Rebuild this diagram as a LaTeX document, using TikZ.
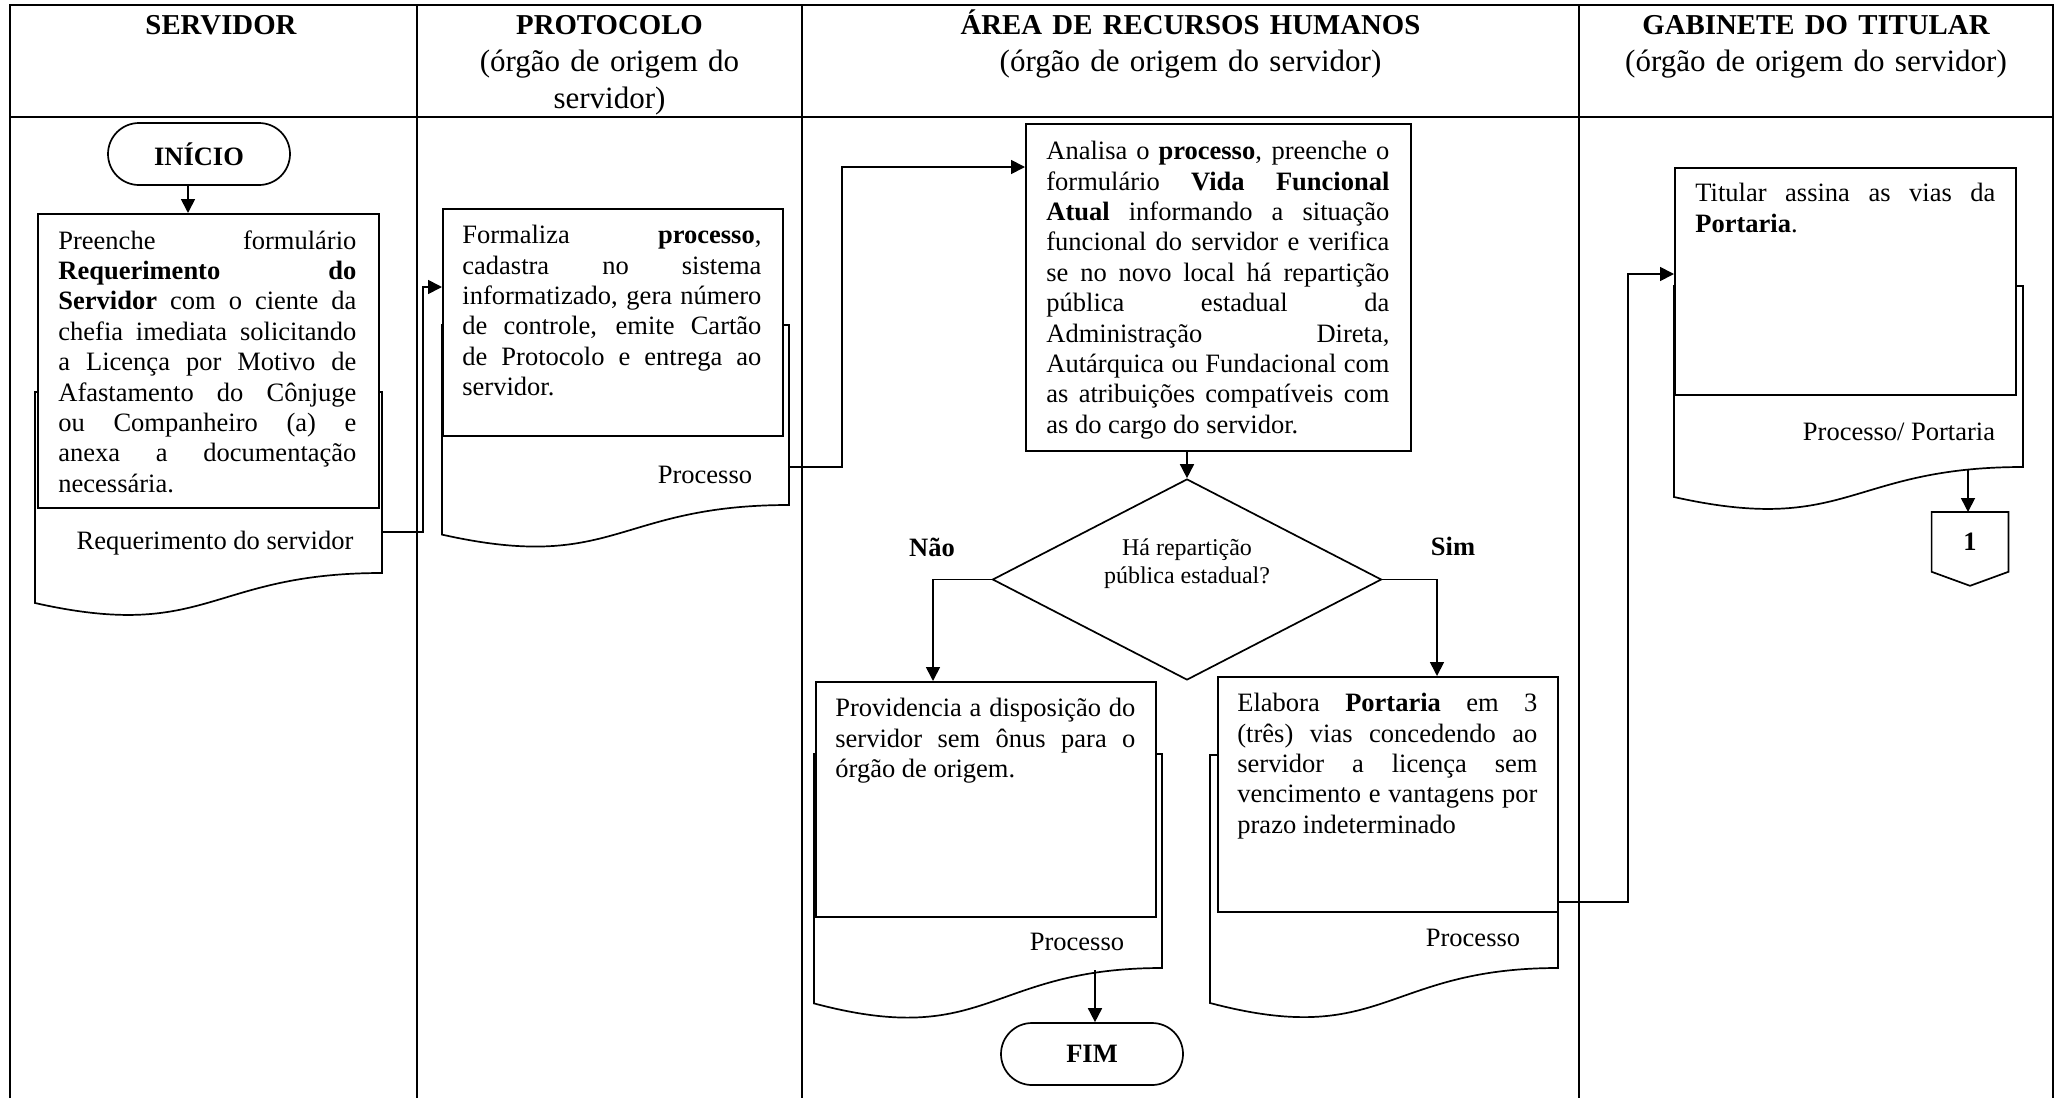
\documentclass[tikz,border=0pt]{standalone}
\usepackage{fontspec}
\setmainfont{Liberation Serif}
\usepackage{tikz}
\usetikzlibrary{arrows.meta, shapes.geometric, calc}
\tolerance=9999
\hyphenpenalty=10000

\begin{document}
\begin{tikzpicture}[x=0.5pt,y=-0.5pt]
\tikzstyle{tabela}=[line width=1.2pt]
\tikzstyle{cabecalho}=[anchor=base, align=center, inner sep=0pt, font=\fontsize{15.5}{18.5}\selectfont]
\tikzstyle{caixa}=[rectangle, draw, fill=white, line width=0.85pt, anchor=north west, inner sep=0pt]
\tikzstyle{texto}=[anchor=north west, align=justify, inner sep=0pt, font=\fontsize{13.25}{15.2}\selectfont]
\tikzstyle{doc}=[draw, fill=white, line width=0.85pt]
\tikzstyle{terminal}=[rectangle, draw, rounded corners=15.5pt, line width=0.85pt, minimum width=91pt, minimum height=31pt, font=\fontsize{13.25}{15}\selectfont\bfseries]
\tikzstyle{decisao}=[diamond, draw, line width=0.85pt, inner sep=0pt, minimum width=194.5pt, minimum height=100.5pt]
\tikzstyle{rotulo}=[font=\fontsize{13.25}{15}\selectfont]
\tikzstyle{seta}=[-{Triangle[length=7pt,width=7pt]}, line width=0.85pt]
\newcommand{\titulo}[1]{{\fontsize{14.4}{18.5}\selectfont\bfseries #1}}

\useasboundingbox (0,0) rectangle (2056,1098);

% grade das raias
\draw[tabela] (10,1098) -- (10,5) -- (2053,5) -- (2053,1098);
\draw[tabela] (10,117) -- (2053,117);
\foreach \x in {417,802,1579} \draw[tabela] (\x,5) -- (\x,1098);

\node[cabecalho, text width=190pt] (servidor) at (221,34) {\titulo{SERVIDOR}};
\node[cabecalho, text width=180pt] (protocolo) at (609.5,34) {\titulo{PROTOCOLO}\\(órgão de origem do\\servidor)};
\node[cabecalho, text width=370pt] (rh) at (1190.5,34) {\titulo{ÁREA DE RECURSOS HUMANOS}\\(órgão de origem do servidor)};
\node[cabecalho, text width=225pt] (gabinete) at (1816,34) {\titulo{GABINETE DO TITULAR}\\(órgão de origem do servidor)};

% servidor
\node[terminal] (inicio) at (199,154) {INÍCIO};
\draw[doc] (35,392) -- (382,392) -- (382,573) .. controls (208.5,573) and (208.5,642) .. (35,603) -- cycle;
\node[caixa, minimum width=170.5pt, minimum height=147pt] (preenche) at (37,213) {};
\node[texto, text width=149pt] (preenche_txt) at ($(preenche.north west)+(21,17)$) {Preenche formulário\linebreak
\textbf{Requerimento do}\linebreak
\textbf{Servidor} com o ciente da\linebreak
chefia imediata solicitando\linebreak
a Licença por Motivo de\linebreak
Afastamento do Cônjuge\linebreak
ou Companheiro (a) e\linebreak
anexa a documentação\linebreak
necessária.};
\node[rotulo] (req) at (215,543) {Requerimento do servidor};
\coordinate (saida1) at (382,532);

% protocolo
\draw[doc] (442,325) -- (789,325) -- (789,505) .. controls (615.5,505) and (615.5,573.5) .. (442,534.6) -- cycle;
\node[caixa, minimum width=170pt, minimum height=113.5pt] (formaliza) at (442,208) {};
\node[texto, text width=149.5pt] (formaliza_txt) at ($(formaliza.north west)+(20,17)$) {Formaliza \textbf{processo},\linebreak
cadastra no sistema\linebreak
informatizado, gera número\linebreak
de controle, emite Cartão\linebreak
de Protocolo e entrega ao\linebreak
servidor.};
\node[rotulo] (proc2) at (705,475) {Processo};
\coordinate (saida2) at (789,467);
\coordinate (entra2) at ($(formaliza.north west)+(0,79)$);

% recursos humanos
\node[caixa, minimum width=192.5pt, minimum height=163.5pt] (analisa) at (1025,123) {};
\node[texto, text width=171.5pt] (analisa_txt) at ($(analisa.north west)+(21,18)$) {Analisa o \textbf{processo}, preenche o\linebreak
formulário \textbf{Vida Funcional}\linebreak
\textbf{Atual} informando a situação\linebreak
funcional do servidor e verifica\linebreak
se no novo local há repartição\linebreak
pública estadual da\linebreak
Administração Direta,\linebreak
Autárquica ou Fundacional com\linebreak
as atribuições compatíveis com\linebreak
as do cargo do servidor.};
\coordinate (entra3) at ($(analisa.north west)+(0,44)$);

\node[decisao] (decisao) at (1187,579.5) {};
\node[align=center, inner sep=0pt, font=\fontsize{12}{14}\selectfont] (pergunta) at (1187,564) {Há repartição\\pública estadual?};
\node[rotulo, font=\fontsize{13.25}{15}\selectfont\bfseries] (nao) at (932,547) {Não};
\node[rotulo, font=\fontsize{13.25}{15}\selectfont\bfseries] (sim) at (1453,546) {Sim};

\draw[doc] (814,754) -- (1162,754) -- (1162,968) .. controls (988,968) and (988,1049.7) .. (814,1003.4) -- cycle;
\node[caixa, minimum width=170pt, minimum height=117.5pt] (providencia) at (815,681) {};
\node[texto, text width=150pt] (providencia_txt) at ($(providencia.north west)+(20,17)$) {Providencia a disposição do\linebreak
servidor sem ônus para o\linebreak
órgão de origem.};
\node[rotulo] (proc4) at (1077,942) {Processo};
\coordinate (saida4) at (1095,970);
\node[terminal] (fim) at (1092,1054) {FIM};

\draw[doc] (1210,755) -- (1558,755) -- (1558,968) .. controls (1384,968) and (1384,1049) .. (1210,1003) -- cycle;
\node[caixa, minimum width=170pt, minimum height=117.5pt] (elabora) at (1217,676) {};
\node[texto, text width=150pt] (elabora_txt) at ($(elabora.north west)+(20,17)$) {Elabora \textbf{Portaria} em 3\linebreak
(três) vias concedendo ao\linebreak
servidor a licença sem\linebreak
vencimento e vantagens por\linebreak
prazo indeterminado};
\node[rotulo] (proc5) at (1473,938) {Processo};
\coordinate (saida5) at (1558,902);

% gabinete
\draw[doc] (1674,286) -- (2023,286) -- (2023,467) .. controls (1848.5,467) and (1848.5,536) .. (1674,497) -- cycle;
\node[caixa, minimum width=170.5pt, minimum height=113.5pt] (titular) at (1674,167) {};
\node[texto, text width=150pt] (titular_txt) at ($(titular.north west)+(21,16)$) {Titular assina as vias da\linebreak
\textbf{Portaria}.};
\node[rotulo] (proc6) at (1899,432) {Processo/ Portaria};
\coordinate (saida6) at (1968,469);
\coordinate (entra6) at ($(titular.north west)+(0,107)$);
\node[minimum width=38pt, minimum height=29.5pt, anchor=north, font=\fontsize{13.25}{15}\selectfont\bfseries] (conector) at (1970,512) {1};
\draw[line width=0.85pt] (conector.north west) -- (conector.north east) -- (conector.south east) -- ($(conector.south)+(0,14)$) -- (conector.south west) -- cycle;

% fluxo
\draw[seta] ([xshift=-5.5pt]inicio.south) -- ([xshift=-5.5pt]inicio.south |- preenche.north);
\draw[seta] (saida1) -- ++(41,0) |- (entra2);
\draw[seta] (saida2) -- ++(53,0) |- (entra3);
\draw[seta] (decisao.north |- analisa.south) -- (decisao.north);
\draw[seta] (decisao.west) -| ($(providencia.north west)+(118,0)$);
\draw[seta] (decisao.east) -| ($(elabora.north west)+(220,0)$);
\draw[seta] (saida4) -- (saida4 |- fim.north);
\draw[seta] (saida5) -- ++(70,0) |- (entra6);
\draw[seta] (saida6) -- (saida6 |- conector.north);

\end{tikzpicture}
\end{document}
